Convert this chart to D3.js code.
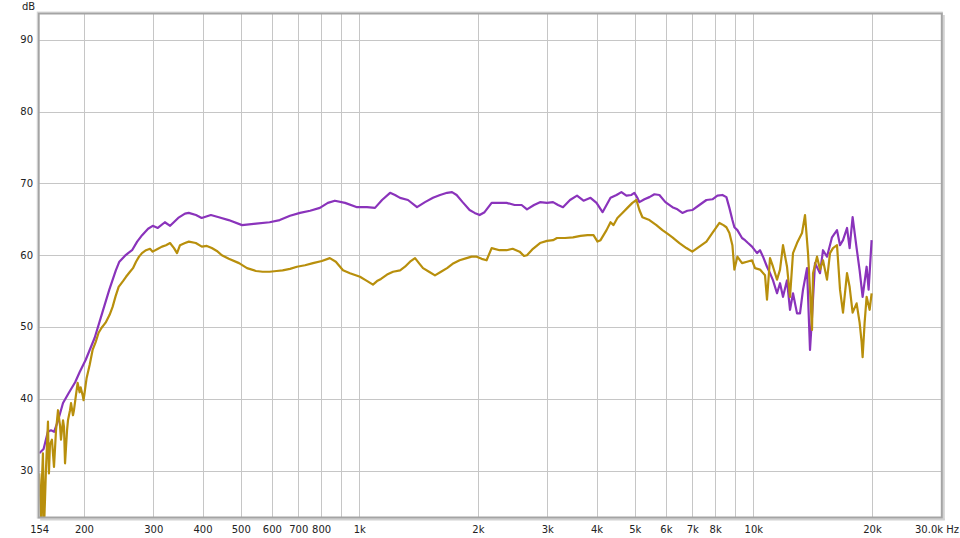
<!DOCTYPE html>
<html><head><meta charset="utf-8">
<script src="https://cdn.jsdelivr.net/npm/d3@7"></script>
<style>
html,body{margin:0;padding:0;background:#fff;}
svg{display:block;}
text{font-family:"DejaVu Sans",sans-serif;font-size:10px;fill:#222;}
</style></head><body>
<svg id="chart" width="960" height="538"></svg>
<script>
// ---- data ----
const yTicks = [30, 40, 50, 60, 70, 80, 90];
const xGrid = [200,300,400,500,600,700,800,900,1000,2000,3000,4000,5000,6000,7000,8000,9000,10000,20000];
const xTickValues = [154,200,300,400,500,600,700,800,1000,2000,3000,4000,5000,6000,7000,8000,10000,20000];
const xTickLabels = ["154","200","300","400","500","600","700","800","1k","2k","3k","4k","5k","6k","7k","8k","10k","20k"];
const xEndLabel = "30.0k Hz";
const yUnit = "dB";

const purple = [
[154,32.4],[158,33.0],[162,35.4],[165,35.6],[168,35.4],[172,37.0],[177,39.4],[183,40.8],[190,42.3],[195,43.7],
[202,45.4],[213,48.5],[223,52.1],[232,55.2],[241,57.9],[246,59.1],[254,59.9],[259,60.3],[265,60.7],[273,61.9],
[281,62.8],[291,63.7],[299,64.1],[308,63.8],[321,64.6],[331,64.1],[347,65.2],[361,65.8],[369,65.9],[385,65.6],
[398,65.2],[420,65.6],[440,65.3],[466,64.9],[504,64.2],[547,64.4],[592,64.6],[628,64.9],[667,65.5],[707,65.9],
[750,66.2],[794,66.6],[832,67.3],[867,67.6],[920,67.3],[987,66.7],[1046,66.7],[1096,66.6],[1142,67.7],[1197,68.7],
[1232,68.4],[1269,68.0],[1329,67.7],[1401,66.7],[1468,67.4],[1538,68.0],[1603,68.4],[1670,68.7],[1719,68.8],[1766,68.4],
[1829,67.4],[1905,66.3],[1962,65.9],[2020,65.6],[2079,66.0],[2167,67.3],[2270,67.3],[2365,67.3],[2478,67.0],[2582,67.0],
[2664,66.4],[2776,67.0],[2875,67.4],[2995,67.3],[3102,67.4],[3194,67.0],[3288,66.7],[3426,67.7],[3569,68.3],[3707,67.6],
[3862,68.0],[4000,67.3],[4143,66.0],[4241,67.0],[4341,68.0],[4496,68.4],[4626,68.8],[4763,68.3],[4904,68.4],[4990,68.7],
[5080,68.0],[5139,67.4],[5292,67.8],[5449,68.1],[5610,68.5],[5776,68.4],[5982,67.4],[6233,66.7],[6417,66.4],[6606,65.9],
[6802,66.2],[7000,66.3],[7297,67.0],[7603,67.7],[7875,67.8],[8108,68.3],[8349,68.4],[8544,68.1],[8695,66.6],[8849,64.9],
[8953,63.9],[9111,63.5],[9361,62.4],[9527,62.1],[9695,61.7],[9924,61.2],[10219,60.3],[10399,60.7],[10583,59.8],[10833,58.4],
[11025,57.5],[11220,56.5],[11486,54.7],[11689,56.1],[11895,54.2],[12177,56.5],[12392,52.4],[12611,54.7],[12910,51.9],[13138,51.9],
[13370,55.2],[13687,58.2],[13928,46.8],[14092,51.4],[14341,58.9],[14767,57.5],[15028,60.7],[15383,59.8],[15839,62.5],[16309,63.5],
[16598,61.4],[16891,62.1],[17291,63.8],[17556,61.0],[17867,65.3],[18289,61.0],[18613,57.9],[18942,54.2],[19390,58.4],[19618,55.2],
[19965,62.1]
];

const gold = [
[154,29.6],[155,25.9],[156,22.0],[156.5,28.7],[157.4,32.4],[158.4,22.0],[159.3,25.9],[160.2,30.1],[162.1,36.8],[163,29.6],
[164,33.6],[165.9,34.3],[167.9,30.5],[169.9,35.6],[171.9,38.4],[173.9,36.3],[174.9,34.3],[177,37.0],[178,36.1],[179.1,31.0],
[181.2,35.6],[182.2,37.0],[184.4,38.4],[185.5,39.4],[187.6,37.7],[188.7,38.4],[190.9,40.5],[192.8,42.2],[195,40.9],[196.2,41.6],
[198.5,40.5],[199.6,39.8],[202,41.9],[203.2,42.9],[206.8,44.7],[210.4,46.8],[214.2,47.9],[217.9,49.2],[221.8,49.9],[227,50.6],
[232.4,51.7],[236.5,52.8],[240.7,54.3],[245,55.6],[251.3,56.4],[255.8,57.0],[261.8,57.7],[266.4,58.2],[271.2,59.1],[276,59.8],
[280.8,60.3],[287.5,60.7],[294.3,60.9],[298.9,60.5],[308.4,60.9],[315.6,61.2],[323.1,61.4],[330.8,61.7],[338.6,61.0],[344.6,60.3],
[350.7,61.4],[361.1,61.7],[369.2,61.9],[384.6,61.7],[398.4,61.2],[410.2,61.3],[422.3,61.0],[434.9,60.6],[447.8,60.0],[466.4,59.5],
[495.1,58.9],[518.8,58.2],[546.8,57.8],[568.3,57.7],[592,57.7],[616.7,57.8],[638.7,57.9],[666.9,58.1],[694.7,58.4],[727.9,58.6],
[762.8,58.9],[803.3,59.2],[841.7,59.6],[871.8,59.1],[909,57.9],[946.9,57.5],[1004,57.0],[1040,56.5],[1083,55.9],[1109,56.4],
[1135,56.7],[1176,57.3],[1218,57.7],[1269,57.9],[1306,58.4],[1345,59.1],[1385,59.6],[1417,58.9],[1451,58.2],[1503,57.7],
[1556,57.2],[1612,57.7],[1670,58.2],[1725,58.8],[1797,59.3],[1872,59.6],[1928,59.8],[1985,59.8],[2044,59.5],[2104,59.3],
[2167,61.0],[2270,60.7],[2365,60.7],[2450,60.9],[2552,60.5],[2618,59.9],[2664,60.0],[2759,60.9],[2875,61.7],[2995,62.0],
[3102,62.1],[3175,62.4],[3327,62.4],[3486,62.5],[3643,62.7],[3795,62.8],[3930,62.8],[4023,61.9],[4095,62.1],[4241,63.5],
[4341,64.6],[4418,64.2],[4519,65.2],[4653,65.9],[4791,66.6],[4933,67.3],[5050,67.7],[5139,66.3],[5230,65.3],[5449,64.9],
[5676,64.2],[5879,63.5],[6053,63.0],[6233,62.5],[6493,61.7],[6763,61.0],[7000,60.5],[7297,61.2],[7603,61.9],[7875,63.1],
[8204,64.5],[8398,64.2],[8544,63.9],[8695,63.1],[8849,61.4],[8953,58.0],[9111,59.8],[9361,58.9],[9639,59.1],[9924,59.3],
[10100,58.2],[10399,58.0],[10708,57.2],[10833,53.8],[11025,59.6],[11220,58.4],[11486,56.6],[11689,58.0],[11895,61.4],[12177,58.4],
[12392,54.2],[12611,60.3],[12910,61.7],[13292,63.1],[13528,65.6],[13767,60.3],[13928,55.2],[14092,49.6],[14175,57.5],[14510,59.8],
[14767,58.0],[15028,59.3],[15383,56.6],[15656,60.3],[15932,61.0],[16309,61.4],[16598,55.2],[16891,52.0],[17291,57.5],[17556,55.6],
[17867,52.0],[18289,53.3],[18613,50.6],[18832,47.9],[18942,45.8],[19165,50.6],[19390,54.2],[19733,52.4],[19965,54.7]
];

// ---- layout ----
const L = 39.2, R = 941.3, T = 14, B = 517;
const svg = d3.select("#chart");
const x = d3.scaleLog().domain([154, 30000]).range([L, R]);
const y = d3.scaleLinear().domain([23.52, 93.62]).range([B, T]);

svg.append("defs").append("clipPath").attr("id","clip")
  .append("rect").attr("x",L).attr("y",T).attr("width",R-L).attr("height",B-T);

// grid
const g = svg.append("g");
g.selectAll("line.vg").data(xGrid).join("line")
  .attr("x1",d=>Math.round(x(d))+0.5).attr("x2",d=>Math.round(x(d))+0.5)
  .attr("y1",T).attr("y2",B).attr("stroke","#c6c6c6").attr("stroke-width",1);
g.selectAll("line.hg").data(yTicks).join("line")
  .attr("y1",d=>Math.round(y(d))+0.5).attr("y2",d=>Math.round(y(d))+0.5)
  .attr("x1",L).attr("x2",R).attr("stroke","#c6c6c6").attr("stroke-width",1);

// curves
const line = d3.line().x(d=>x(d[0])).y(d=>y(d[1]));
const curves = svg.append("g").attr("clip-path","url(#clip)");
curves.append("path").datum(purple).attr("d",line)
  .attr("fill","none").attr("stroke","#8a33bb").attr("stroke-width",2.2).attr("stroke-linejoin","round");
curves.append("path").datum(gold).attr("d",line)
  .attr("fill","none").attr("stroke","#b88f0c").attr("stroke-width",2.2).attr("stroke-linejoin","round");

// frame with shadow
svg.append("line").attr("x1",R+2.5).attr("x2",R+2.5).attr("y1",T+1).attr("y2",B+3).attr("stroke","#d2d2d2").attr("stroke-width",2);
svg.append("line").attr("x1",L+1).attr("x2",R+3.5).attr("y1",B+2.5).attr("y2",B+2.5).attr("stroke","#d2d2d2").attr("stroke-width",2);
svg.append("rect").attr("x",L-2).attr("y",T-2).attr("width",R-L+3).attr("height",B-T+3)
  .attr("fill","none").attr("stroke","#dadada").attr("stroke-width",1);
svg.append("rect").attr("x",L-0.5).attr("y",T-0.5).attr("width",R-L+1).attr("height",B-T+1)
  .attr("fill","none").attr("stroke","#a4a4a4").attr("stroke-width",2);

// y axis labels
svg.selectAll("text.yt").data(yTicks).join("text")
  .attr("x",33).attr("y",d=>y(d)+3.5).attr("text-anchor","end").text(d=>d);
svg.append("text").attr("x",22).attr("y",10).text(yUnit);

// x axis labels
svg.selectAll("text.xt").data(xTickValues).join("text")
  .attr("x",d=>x(d)+0.5).attr("y",533).attr("text-anchor","middle")
  .text((d,i)=>xTickLabels[i]);
svg.append("text").attr("x",959).attr("y",533).attr("text-anchor","end").text(xEndLabel);
</script>
</body></html>
